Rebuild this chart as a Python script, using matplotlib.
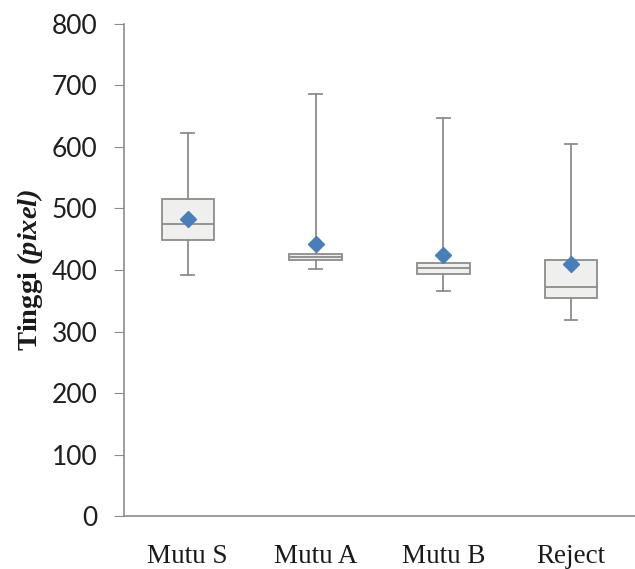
import matplotlib
matplotlib.use('Agg')
import matplotlib.pyplot as plt

plt.rcParams['mathtext.fontset'] = 'custom'
plt.rcParams['mathtext.bf'] = 'Liberation Serif:bold'
plt.rcParams['mathtext.bfit'] = 'Liberation Serif:italic:bold'
plt.rcParams['mathtext.rm'] = 'Liberation Serif'

# data
categories = ['Mutu S', 'Mutu A', 'Mutu B', 'Reject']
whisker_low = [392, 402, 366, 319]
q1 = [449, 416, 394, 355]
median = [475, 421, 403, 372]
q3 = [515, 426, 412, 417]
whisker_high = [622, 686, 647, 605]
mean = [483, 442, 424, 409]

stats = []
for i, name in enumerate(categories):
    stats.append({'label': name, 'whislo': whisker_low[i], 'q1': q1[i],
                  'med': median[i], 'q3': q3[i], 'whishi': whisker_high[i],
                  'mean': mean[i]})

edge = '#8c8c8c'
fig = plt.figure(figsize=(6.35, 5.69), dpi=100)
ax = fig.add_axes([0.195, 0.093, 0.805, 0.865])

ax.bxp(stats, positions=[1, 2, 3, 4], widths=0.41, showmeans=True,
       showfliers=False, patch_artist=True,
       boxprops=dict(facecolor='#efefed', edgecolor=edge, linewidth=1.3),
       medianprops=dict(color=edge, linewidth=1.3),
       whiskerprops=dict(color=edge, linewidth=1.3),
       capprops=dict(color=edge, linewidth=1.3),
       capwidths=0.1,
       meanprops=dict(marker='D', markerfacecolor='#4a7ebb',
                      markeredgecolor='#4a7ebb', markersize=8))

ax.set_xlim(0.5, 4.5)
ax.set_ylim(0, 800)
ax.set_yticks(range(0, 801, 100))
ax.set_xticks([1, 2, 3, 4])
ax.set_xticklabels(categories, family='Liberation Serif', fontsize=19.5,
                   color='#1a1a1a')
for lbl in ax.get_yticklabels():
    lbl.set_family('Lato')
    lbl.set_fontsize(19)
    lbl.set_color('#1f1f1f')

for s in ['top', 'right']:
    ax.spines[s].set_visible(False)
for s in ['left', 'bottom']:
    ax.spines[s].set_color(edge)
    ax.spines[s].set_linewidth(1.2)
ax.tick_params(axis='y', length=7, color=edge, pad=12)
ax.tick_params(axis='x', length=0, pad=20)

ax.set_ylabel(r'Tinggi $\mathbfit{(pixel)}$', family='Liberation Serif',
              fontweight='bold', fontsize=20.5, labelpad=5, color='#1a1a1a')

fig.savefig('out.png', dpi=100)
